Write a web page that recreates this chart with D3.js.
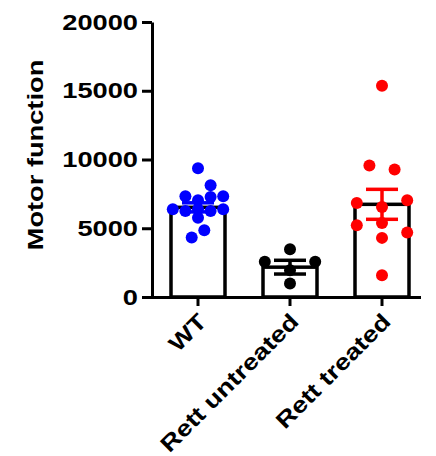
<!DOCTYPE html>
<html><head><meta charset="utf-8">
<script src="https://cdn.jsdelivr.net/npm/d3@7"></script>
<style>body{margin:0;background:#fff}svg{display:block}</style>
</head><body>
<svg id="c" width="436" height="456"></svg>
<script>
const categories = ["WT", "Rett untreated", "Rett treated"];
const means = [6520, 2170, 6740];
const sems = [330, 500, 1090];
const colors = ["#0000ff", "#000000", "#ff0000"];
const wtValues = [9370, 8120, 7320, 7030, 7270, 7320, 6380, 6250, 6380, 6250, 6380, 5770, 4860, 4330];
const wtOffsets = [0, 1, -1, 0, 1, 2, -2, -1, 0, 1, 2, 0, 0.5, -0.5];
const untreatedValues = [3480, 2560, 2560, 1950, 990];
const untreatedOffsets = [0, -2, 2, 0, 0];
const treatedValues = [15360, 9570, 9280, 6840, 7030, 6540, 5220, 5390, 4690, 4300, 1590];
const treatedOffsets = [0, -1, 1, -2, 2, 0, -2, 0, 2, 0, 0];
const yTicks = [0, 5000, 10000, 15000, 20000];
const yTitle = "Motor function";

const groups = [
  {vals: wtValues, offs: wtOffsets},
  {vals: untreatedValues, offs: untreatedOffsets},
  {vals: treatedValues, offs: treatedOffsets}
];

const svg = d3.select("#c");
const FONT = "'Liberation Sans', Arial, sans-serif";
const FS = 22.5;
const STRETCH = 1.21;
const x = d3.scaleBand().domain(categories).range([152, 428]).padding(0);
const y = d3.scaleLinear().domain([0, 20000]).range([297, 22]);
const barW = 54;
const dotStep = 12.6;

function stretch(sel) {
  sel.each(function() {
    const L = this.getComputedTextLength();
    d3.select(this).attr("textLength", L * STRETCH).attr("lengthAdjust", "spacingAndGlyphs");
  });
}

// bars
svg.append("g").selectAll("rect").data(categories).join("rect")
  .attr("x", d => x(d) + x.bandwidth()/2 - barW/2)
  .attr("y", (d,i) => y(means[i]))
  .attr("width", barW)
  .attr("height", (d,i) => y(0) - y(means[i]))
  .attr("fill", "#fff").attr("stroke", "#000").attr("stroke-width", 3.5);

// error bars
const eb = svg.append("g");
categories.forEach((c, i) => {
  const cx = x(c) + x.bandwidth()/2;
  const g = eb.append("g").attr("stroke", colors[i]).attr("stroke-width", 3.5);
  g.append("line").attr("x1", cx).attr("x2", cx).attr("y1", y(means[i]+sems[i])).attr("y2", y(means[i]-sems[i]));
  g.append("line").attr("x1", cx-16).attr("x2", cx+16).attr("y1", y(means[i]+sems[i])).attr("y2", y(means[i]+sems[i]));
  g.append("line").attr("x1", cx-16).attr("x2", cx+16).attr("y1", y(means[i]-sems[i])).attr("y2", y(means[i]-sems[i]));
});

// dots
groups.forEach((gr, i) => {
  const cx = x(categories[i]) + x.bandwidth()/2;
  svg.append("g").selectAll("circle").data(gr.vals).join("circle")
    .attr("cx", (d,j) => cx + gr.offs[j]*dotStep)
    .attr("cy", d => y(d))
    .attr("r", 6)
    .attr("fill", colors[i]);
});

// y axis
const ya = svg.append("g").attr("transform", "translate(152,0)")
  .call(d3.axisLeft(y).tickValues(yTicks).tickFormat(d3.format("d")).tickSize(10).tickPadding(4).tickSizeOuter(0));
ya.select(".domain").attr("stroke-width", 3);
ya.selectAll(".tick line").attr("stroke-width", 3);
ya.selectAll("text").attr("font-family", FONT).attr("font-weight", "bold").attr("font-size", FS).attr("fill", "#000").call(stretch);

// x axis
const xa = svg.append("g").attr("transform", "translate(0,297)")
  .call(d3.axisBottom(x).tickSize(9).tickSizeOuter(0).tickFormat(""));
xa.select(".domain").attr("stroke-width", 3).attr("d", "M142,0.5H421");
xa.selectAll(".tick line").attr("stroke-width", 3);

// x labels
svg.append("g").selectAll("text").data(categories).join("text")
  .attr("transform", d => `translate(${x(d) + x.bandwidth()/2 + 10},${323}) rotate(-45)`)
  .attr("text-anchor", "end")
  .attr("font-family", FONT).attr("font-weight", "bold").attr("font-size", FS)
  .text(d => d).call(stretch);

// y title
svg.append("text")
  .attr("transform", `translate(43,155) rotate(-90)`)
  .attr("text-anchor", "middle")
  .attr("font-family", FONT).attr("font-weight", "bold").attr("font-size", FS)
  .text(yTitle).call(stretch);
</script>
</body></html>
